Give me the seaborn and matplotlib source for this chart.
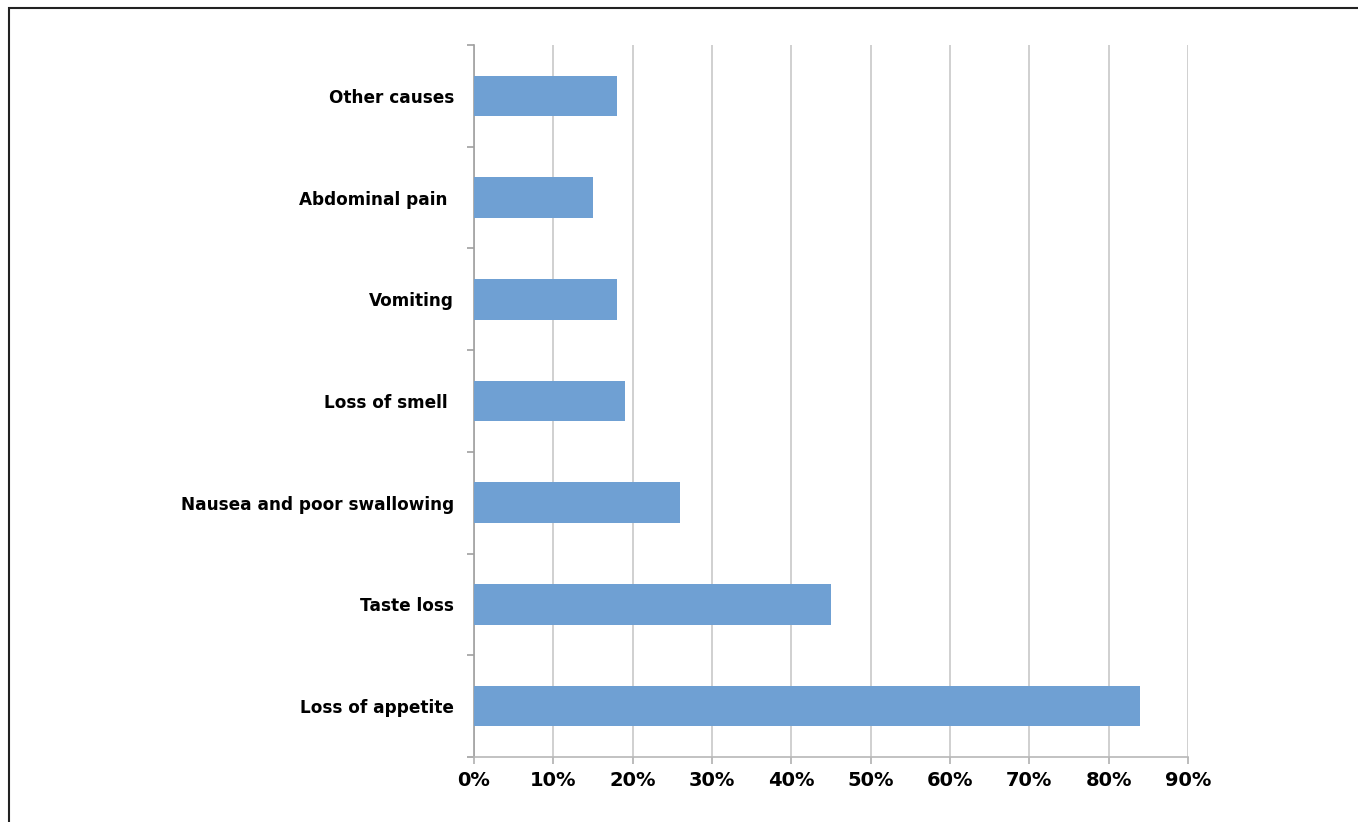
import matplotlib
matplotlib.use("Agg")
import matplotlib.pyplot as plt
import matplotlib.ticker as mticker
import seaborn as sns
import pandas as pd
import numpy as np

# Reported symptoms and share of patients (%)
symptoms = [
    "Other causes",
    "Abdominal pain ",
    "Vomiting",
    "Loss of smell ",
    "Nausea and poor swallowing",
    "Taste loss",
    "Loss of appetite",
]
percent = [18, 15, 18, 19, 26, 45, 84]
x_ticks = [0, 10, 20, 30, 40, 50, 60, 70, 80, 90]

df = pd.DataFrame({"symptom": symptoms, "percent": percent})

sns.set_style("white")
plt.rcParams["font.family"] = ["DejaVu Sans"]

fig = plt.figure(figsize=(13.58, 8.22), dpi=100)
ax = fig.add_axes([474 / 1358, 1 - 757 / 822, (1188 - 474) / 1358, (757 - 45) / 822])

sns.barplot(data=df, x="percent", y="symptom", orient="h", color="#6FA0D3",
            saturation=1, width=0.4, linewidth=0, edgecolor="none", ax=ax, zorder=3)

ax.set_xlim(0, 90)
ax.set_ylim(len(symptoms) - 0.5, -0.5)
ax.set_xticks(x_ticks)
ax.xaxis.set_major_formatter(mticker.FuncFormatter(lambda v, p: f"{v:.0f}%"))
ax.grid(axis="x", color="#C8C8C8", linewidth=1.2, zorder=0)
ax.set_axisbelow(True)

# Category boundary ticks on the vertical axis, labels centred on the bars
ax.set_yticks(np.arange(-0.5, len(symptoms) + 0.5, 1), minor=True)
ax.tick_params(axis="y", which="major", left=True, length=0, pad=14.5)
ax.tick_params(axis="y", which="minor", left=True, length=5, color="#A0A0A0",
               width=1.2, direction="out")
ax.tick_params(axis="x", which="major", bottom=True, length=5, color="#B0B0B0",
               width=1.2, direction="out", pad=5)

for lbl in ax.get_yticklabels():
    lbl.set_fontweight("bold")
    lbl.set_fontsize(12.2)
    lbl.set_color("black")
for lbl in ax.get_xticklabels():
    lbl.set_fontweight("bold")
    lbl.set_fontsize(14)
    lbl.set_color("black")

for side in ["top", "right"]:
    ax.spines[side].set_visible(False)
ax.spines["left"].set_color("#A0A0A0")
ax.spines["left"].set_linewidth(1.2)
ax.spines["bottom"].set_color("#B8B8B8")
ax.spines["bottom"].set_linewidth(1.2)

ax.set_xlabel("")
ax.set_ylabel("")

# Outer frame of the figure
frame = plt.Rectangle((9 / 1358, -0.1), 1.2, 1 - 8 / 822 + 0.1, transform=fig.transFigure,
                      fill=False, edgecolor="#222222", linewidth=1.5)
fig.patches.append(frame)

fig.savefig("out.png", dpi=100, facecolor="white")
